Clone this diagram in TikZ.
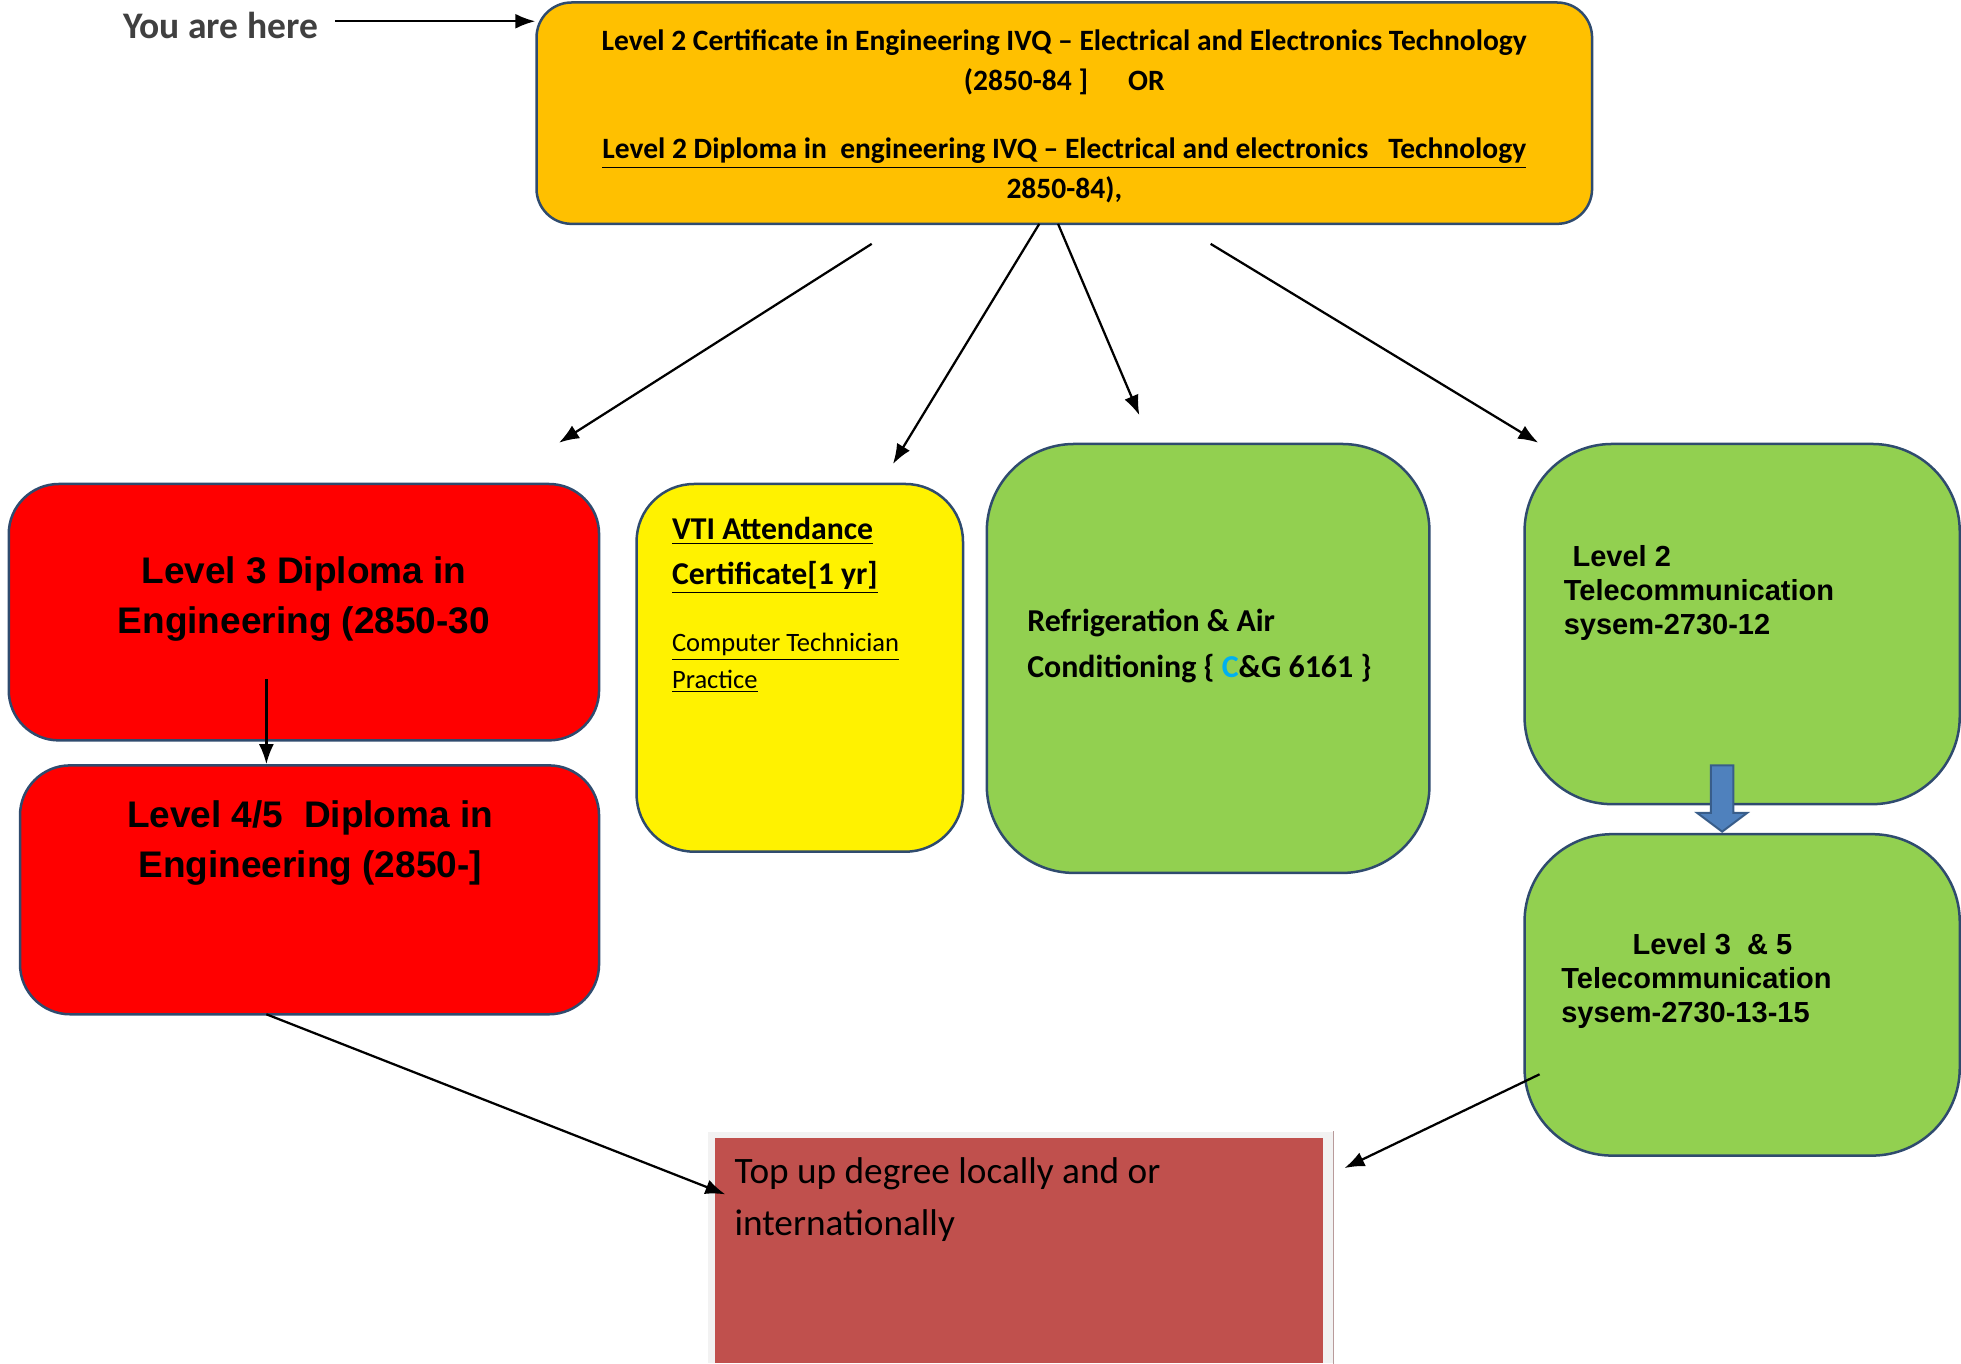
\documentclass[tikz,border=0pt]{standalone}
\usepackage{fontspec}
\setmainfont{Carlito}
\newfontfamily\arialfont{Liberation Sans}
\usetikzlibrary{arrows.meta, calc, fit}

\definecolor{boxline}{HTML}{2F4B6E}
\definecolor{gold}{HTML}{FFC000}
\definecolor{lime}{HTML}{92D050}
\definecolor{brick}{HTML}{C0504D}
\definecolor{paleframe}{HTML}{F2F2F2}
\definecolor{frameedge}{HTML}{B89A9A}
\definecolor{blockblue}{HTML}{4F81BD}
\definecolor{blockline}{HTML}{385D8A}
\definecolor{cgcyan}{HTML}{00B0F0}
\definecolor{herefont}{HTML}{404040}

\tikzset{
    box/.style={draw=boxline, line width=1pt, inner sep=0pt},
    txt/.style={inner sep=0pt},
    link/.style={-{Latex[length=8pt,width=6pt]}, line width=0.9pt},
}

\begin{document}
\begin{tikzpicture}[x=0.5pt, y=-0.5pt]
    \useasboundingbox (0,0) rectangle (1568,1090);

    % boxes
    \node[box, fill=gold, rounded corners=14pt, fit={(429,2) (1273,179)}] (start) {};
    \node[box, fill=red, rounded corners=20pt, fit={(7,387) (479,592)}] (lvlthree) {};
    \node[box, fill=red, rounded corners=20pt, fit={(16,612) (479,811)}] (lvlfour) {};
    \node[box, fill=yellow, rounded corners=23pt, fit={(509,387) (770,681)}] (vti) {};
    \node[box, fill=lime, rounded corners=35pt, fit={(789,355) (1143,698)}] (fridge) {};
    \node[box, fill=lime, rounded corners=35pt, fit={(1219,355) (1567,643)}] (telecomtwo) {};
    \node[box, fill=lime, rounded corners=35pt, fit={(1219,667) (1567,924)}] (telecomthree) {};
    \node[inner sep=0pt, fill=paleframe, fit={(566,905) (1066,1090)}] (topupframe) {};
    \node[inner sep=0pt, fill=brick, fit={(572,910) (1058,1090)}] (topup) {};
    \draw[frameedge, line width=0.6pt] (topupframe.north east) -- (topupframe.south east);

    % texts
    \node[txt, anchor=west, text=herefont, font=\bfseries\fontsize{15}{18}\selectfont] (here) at (98,20) {You are here};
    \node[txt, anchor=north, align=center, font=\bfseries\fontsize{11.8}{16}\selectfont] (startt) at (851,23)
        {Level 2 Certificate in Engineering IVQ -- Electrical and Electronics Technology\\
         (2850-84 ]\hspace{16pt}OR\\[11.5pt]
         \underline{Level 2 Diploma in\ \ engineering IVQ -- Electrical and electronics\ \ \ Technology}\\
         2850-84),};
    \node[txt, anchor=north, align=center, font=\arialfont\bfseries\fontsize{14.8}{20}\selectfont] (lvlthreet) at (243,445)
        {Level 3 Diploma in\\ Engineering (2850-30};
    \node[txt, anchor=north, align=center, font=\arialfont\bfseries\fontsize{14.8}{20}\selectfont] (lvlfourt) at (248,640)
        {Level 4/5\ \ Diploma in\\ Engineering (2850-]};
    \node[txt, anchor=north west, align=left, font=\bfseries\fontsize{12.7}{18}\selectfont] (vtit) at (537,413)
        {\underline{VTI Attendance}\\ \underline{Certificate[1 yr]}};
    \node[txt, anchor=north west, align=left, font=\fontsize{10.6}{14.5}\selectfont] (vtisub) at (537,506)
        {\underline{Computer Technician}\\ \underline{Practice}};
    \node[txt, anchor=north west, align=left, font=\bfseries\fontsize{12.75}{18}\selectfont] (fridget) at (821,487)
        {Refrigeration \& Air\\ Conditioning \{ \textcolor{cgcyan}{C}\&G 6161 \}};
    \node[txt, anchor=north west, align=left, font=\arialfont\bfseries\fontsize{11.6}{13.5}\selectfont] (telecomtwot) at (1250,436)
        {\hspace*{3.5pt}Level 2\\ Telecommunication\\ sysem-2730-12};
    \node[txt, anchor=north west, align=left, font=\arialfont\bfseries\fontsize{11.6}{13.5}\selectfont] (telecomthreet) at (1248,746)
        {\hspace*{28.5pt}Level 3\ \ \& 5\\ Telecommunication\\ sysem-2730-13-15};
    \node[txt, anchor=north west, align=left, font=\fontsize{14.9}{21}\selectfont] (topupt) at (587,925)
        {Top up degree locally and or\\ internationally};

    % connectors
    \coordinate (herearrow) at (268,17);
    \coordinate (startin) at (428,17);
    \draw[link] (herearrow) -- (startin);

    \coordinate (outa) at (697,195);
    \coordinate (ina) at (447,354);
    \coordinate (outb) at (831,179);
    \coordinate (inb) at (714,371);
    \coordinate (outc) at (846,179);
    \coordinate (inc) at (911,332);
    \coordinate (outd) at (968,195);
    \coordinate (ind) at (1230,354);
    \foreach \i in {a,b,c,d}{
        \draw[link] (out\i) -- (in\i);
    }

    \coordinate (downout) at (213,543);
    \draw[link] (downout) -- (lvlfour.north -| downout);

    \coordinate (lvlfourout) at (213,811);
    \coordinate (topupin) at (580,955);
    \draw[link] (lvlfourout) -- (topupin);

    \coordinate (telout) at (1231,859);
    \coordinate (telin) at (1075,934);
    \draw[link] (telout) -- (telin);

    % block arrow between telecom boxes
    \draw[fill=blockblue, draw=blockline, line width=0.8pt]
        (1368,612) -- (1386,612) -- (1386,650) -- (1397,650) -- (1377,665)
        -- (1357,650) -- (1368,650) -- cycle;
\end{tikzpicture}
\end{document}
